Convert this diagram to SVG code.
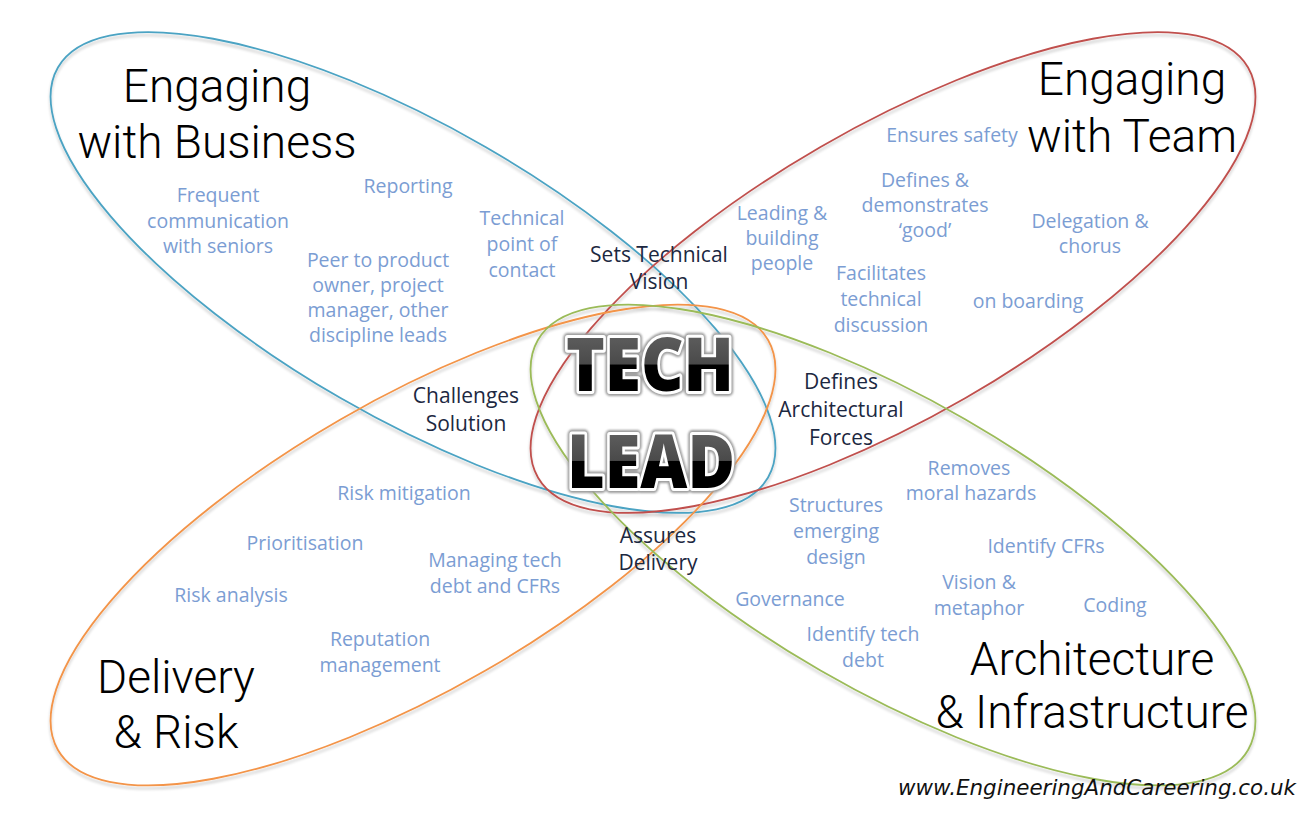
<svg xmlns="http://www.w3.org/2000/svg" width="1306" height="816" viewBox="0 0 1306 816">
<defs>
<style>
.loop{fill:none;stroke-width:1.8}
.head{font-family:Roboto,"Liberation Sans",sans-serif;font-weight:300;font-size:46px;fill:#000;text-anchor:middle}
.lbl{font-family:"Open Sans","Noto Sans",sans-serif;font-size:19.5px;fill:#7b9dd3;text-anchor:middle}
.key{font-family:"Open Sans","Noto Sans",sans-serif;font-size:21px;fill:#1c2841;text-anchor:middle}
.big{font-family:"Open Sans","Noto Sans",sans-serif;font-weight:800;font-size:75px;text-anchor:middle}
.halo{fill:none;stroke:#9c9c9c;stroke-width:10;stroke-linejoin:round}
.face{stroke:#fff;stroke-width:6;stroke-linejoin:round;paint-order:stroke}
.url{font-family:"DejaVu Sans",sans-serif;font-style:italic;font-weight:200;font-size:22px;fill:#111}
</style>
<filter id="sh" x="-10%" y="-10%" width="120%" height="130%">
<feGaussianBlur in="SourceAlpha" stdDeviation="1.5"/>
<feOffset dy="2.5" result="o"/>
<feComponentTransfer><feFuncA type="linear" slope="0.22"/></feComponentTransfer>
<feMerge><feMergeNode/><feMergeNode in="SourceGraphic"/></feMerge>
</filter>
<filter id="blur" x="-10%" y="-20%" width="120%" height="140%"><feGaussianBlur stdDeviation="1.2"/></filter>
<linearGradient id="gT" gradientUnits="userSpaceOnUse" x1="0" y1="337" x2="0" y2="391">
<stop offset="0" stop-color="#5c5c5c"/><stop offset="0.5" stop-color="#4a4a4a"/><stop offset="0.52" stop-color="#000"/><stop offset="1" stop-color="#000"/>
</linearGradient>
<linearGradient id="gL" gradientUnits="userSpaceOnUse" x1="0" y1="435" x2="0" y2="488">
<stop offset="0" stop-color="#5c5c5c"/><stop offset="0.48" stop-color="#4a4a4a"/><stop offset="0.5" stop-color="#000"/><stop offset="1" stop-color="#000"/>
</linearGradient>
</defs>
<rect width="1306" height="816" fill="#fff"/>

<g id="loops" filter="url(#sh)">
<ellipse id="loop-business" class="loop" stroke="#4ba3c3" cx="413" cy="272.5" rx="410" ry="145" transform="rotate(30 413 272.5)"/>
<ellipse id="loop-team" class="loop" stroke="#c0504d" cx="893" cy="272.5" rx="410" ry="145" transform="rotate(-30 893 272.5)"/>
<ellipse id="loop-delivery" class="loop" stroke="#f39448" cx="413" cy="545" rx="410" ry="145" transform="rotate(-30 413 545)"/>
<ellipse id="loop-architecture" class="loop" stroke="#9bbb59" cx="893" cy="545" rx="410" ry="145" transform="rotate(30 893 545)"/>
</g>

<g id="business">
<text class="head" x="217" y="102">Engaging</text>
<text class="head" x="217" y="158">with Business</text>
<text class="lbl" x="218" y="202">Frequent</text>
<text class="lbl" x="218" y="228">communication</text>
<text class="lbl" x="218" y="253">with seniors</text>
<text class="lbl" x="408" y="193">Reporting</text>
<text class="lbl" x="522" y="225">Technical</text>
<text class="lbl" x="522" y="251">point of</text>
<text class="lbl" x="522" y="277">contact</text>
<text class="lbl" x="378" y="267">Peer to product</text>
<text class="lbl" x="378" y="292">owner, project</text>
<text class="lbl" x="378" y="317">manager, other</text>
<text class="lbl" x="378" y="342">discipline leads</text>
</g>

<g id="team">
<text class="head" x="1132" y="95">Engaging</text>
<text class="head" x="1132" y="152">with Team</text>
<text class="lbl" x="952" y="142">Ensures safety</text>
<text class="lbl" x="925" y="187">Defines &amp;</text>
<text class="lbl" x="925" y="212">demonstrates</text>
<text class="lbl" x="925" y="237">‘good’</text>
<text class="lbl" x="782" y="220">Leading &amp;</text>
<text class="lbl" x="782" y="245">building</text>
<text class="lbl" x="782" y="270">people</text>
<text class="lbl" x="1090" y="228">Delegation &amp;</text>
<text class="lbl" x="1090" y="253">chorus</text>
<text class="lbl" x="881" y="280">Facilitates</text>
<text class="lbl" x="881" y="306">technical</text>
<text class="lbl" x="881" y="332">discussion</text>
<text class="lbl" x="1028" y="308">on boarding</text>
</g>

<g id="delivery">
<text class="head" x="176" y="693">Delivery</text>
<text class="head" x="176" y="748">&amp; Risk</text>
<text class="lbl" x="404" y="500">Risk mitigation</text>
<text class="lbl" x="305" y="550">Prioritisation</text>
<text class="lbl" x="495" y="567">Managing tech</text>
<text class="lbl" x="495" y="593">debt and CFRs</text>
<text class="lbl" x="231" y="602">Risk analysis</text>
<text class="lbl" x="380" y="646">Reputation</text>
<text class="lbl" x="380" y="672">management</text>
</g>

<g id="architecture">
<text class="head" x="1092" y="675">Architecture</text>
<text class="head" x="1092" y="728">&amp; Infrastructure</text>
<text class="lbl" x="969" y="475">Removes</text>
<text class="lbl" x="971" y="500">moral hazards</text>
<text class="lbl" x="836" y="512">Structures</text>
<text class="lbl" x="836" y="538">emerging</text>
<text class="lbl" x="836" y="564">design</text>
<text class="lbl" x="1046" y="553">Identify CFRs</text>
<text class="lbl" x="979" y="589">Vision &amp;</text>
<text class="lbl" x="979" y="615">metaphor</text>
<text class="lbl" x="1115" y="612">Coding</text>
<text class="lbl" x="790" y="606">Governance</text>
<text class="lbl" x="863" y="641">Identify tech</text>
<text class="lbl" x="863" y="667">debt</text>
</g>

<g id="overlaps">
<text class="key" x="659" y="262">Sets Technical</text>
<text class="key" x="659" y="289">Vision</text>
<text class="key" x="466" y="403">Challenges</text>
<text class="key" x="466" y="431">Solution</text>
<text class="key" x="841" y="389">Defines</text>
<text class="key" x="841" y="417">Architectural</text>
<text class="key" x="841" y="445">Forces</text>
<text class="key" x="658" y="543">Assures</text>
<text class="key" x="658" y="570">Delivery</text>
</g>

<g id="tech-lead">
<text class="big halo" filter="url(#blur)" x="650" y="391" textLength="168" lengthAdjust="spacingAndGlyphs">TECH</text>
<text class="big face" fill="url(#gT)" x="650" y="391" textLength="168" lengthAdjust="spacingAndGlyphs">TECH</text>
<text class="big halo" filter="url(#blur)" x="651" y="488" textLength="168" lengthAdjust="spacingAndGlyphs">LEAD</text>
<text class="big face" fill="url(#gL)" x="651" y="488" textLength="168" lengthAdjust="spacingAndGlyphs">LEAD</text>
</g>

<g id="footer">
<text class="url" x="898" y="795" textLength="398" lengthAdjust="spacingAndGlyphs">www.EngineeringAndCareering.co.uk</text>
</g>
</svg>
